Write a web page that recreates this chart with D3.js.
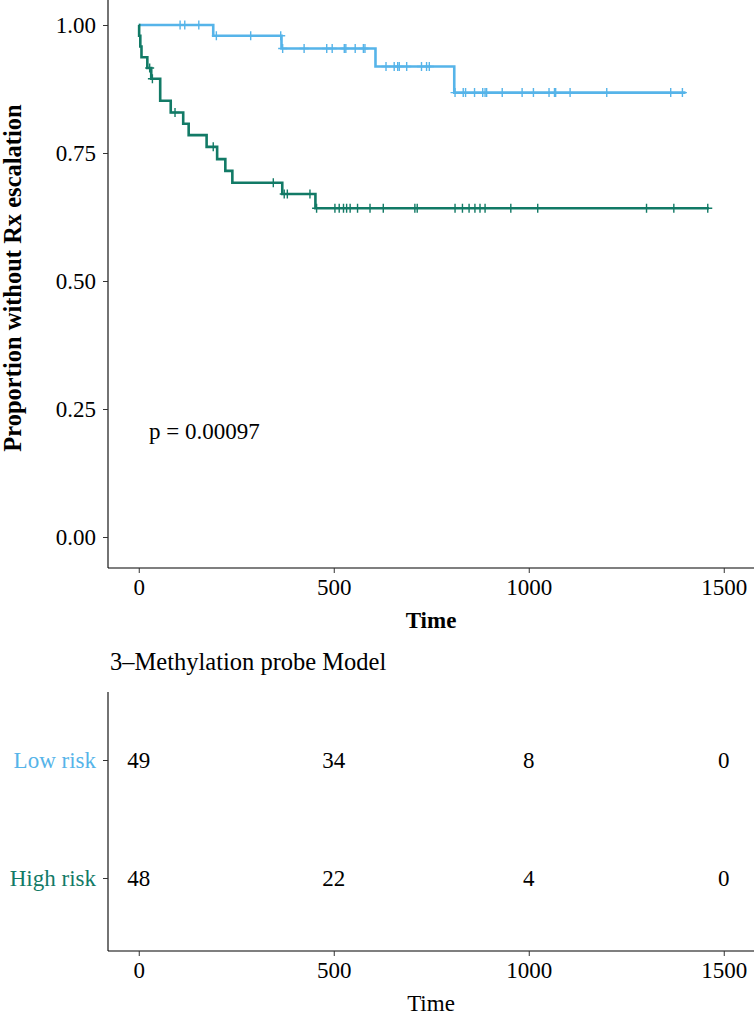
<!DOCTYPE html>
<html>
<head>
<meta charset="utf-8">
<script src="https://cdn.jsdelivr.net/npm/d3@7"></script>
<style>
  html, body { margin: 0; padding: 0; background: #ffffff; }
  svg { display: block; }
  text { font-family: "Liberation Serif", "DejaVu Serif", serif; }
</style>
</head>
<body>
<svg id="chart" width="754" height="1017"></svg>
<script>
// ---------- data ----------
const xTicks = [0, 500, 1000, 1500];
const yTicks = [0, 0.25, 0.5, 0.75, 1];
const yTickLabels = ["0.00", "0.25", "0.50", "0.75", "1.00"];

const strata = ["Low risk", "High risk"];
const strataColors = ["#56B4E9", "#127A66"];

// Low risk: step (event) times and survival after each step
const lowEventTimes = [0, 191, 366, 607, 809];
const lowSurv = [1, 0.979, 0.954, 0.919, 0.868];
const lowEnd = 1402;
const lowCensor = [106, 118, 154, 199, 287, 364, 369, 424, 482, 496, 527, 531, 555, 576, 580,
  634, 655, 664, 668, 687, 725, 738, 745, 811, 832, 838, 861, 882, 888, 892, 932, 983,
  1012, 1052, 1066, 1069, 1106, 1200, 1364, 1394];

// High risk
const highEventTimes = [0, 1, 4, 7, 22, 32, 55, 82, 114, 128, 174, 201, 222, 240, 368, 453];
const highSurv = [1, 0.979, 0.958, 0.937, 0.916, 0.895, 0.852, 0.829, 0.807, 0.785, 0.762,
  0.738, 0.715, 0.692, 0.670, 0.642];
const highEnd = 1462;
const highCensor = [28, 35, 93, 191, 345, 373, 381, 439, 456, 503, 514, 525, 533, 542, 561,
  593, 627, 708, 714, 811, 830, 847, 862, 875, 888, 954, 1023, 1302, 1372, 1459];

const pText = "p = 0.00097";

// risk table
const riskTimes = [0, 500, 1000, 1500];
const lowRisk = [49, 34, 8, 0];
const highRisk = [48, 22, 4, 0];
const tableTitle = "3\u2013Methylation probe Model";

// ---------- layout ----------
const svg = d3.select("#chart");
const font = "Liberation Serif";
const panelLeft = 108, panelRight = 754;
const topPanelTop = 0, topPanelBottom = 568;
const tabTop = 692, tabBottom = 951;

const x = d3.scaleLinear().domain([0, 1500]).range([138.75, 723.75]);
const y = d3.scaleLinear().domain([0, 1]).range([537, 25]);

// ---------- top plot ----------
const gTop = svg.append("g");

gTop.append("line").attr("x1", panelLeft).attr("x2", panelLeft)
  .attr("y1", topPanelTop).attr("y2", topPanelBottom)
  .attr("stroke", "#000").attr("stroke-width", 1.1);
gTop.append("line").attr("x1", panelLeft).attr("x2", panelRight)
  .attr("y1", topPanelBottom).attr("y2", topPanelBottom)
  .attr("stroke", "#000").attr("stroke-width", 1.1);

const yAxis = d3.axisLeft(y).tickValues(yTicks)
  .tickFormat((d, i) => yTickLabels[i]).tickSize(5).tickSizeOuter(0).tickPadding(7);
const gy = gTop.append("g").attr("transform", `translate(${panelLeft},0)`).call(yAxis);
gy.select(".domain").remove();
gy.selectAll("text").attr("font-family", font).attr("font-size", 23).attr("fill", "#000");
gy.selectAll("line").attr("stroke", "#333");

const xAxis = d3.axisBottom(x).tickValues(xTicks).tickFormat(d3.format("d"))
  .tickSize(5).tickSizeOuter(0).tickPadding(6);
const gx = gTop.append("g").attr("transform", `translate(0,${topPanelBottom})`).call(xAxis);
gx.select(".domain").remove();
gx.selectAll("text").attr("font-family", font).attr("font-size", 23).attr("fill", "#000");
gx.selectAll("line").attr("stroke", "#333");

gTop.append("text").attr("x", (panelLeft + panelRight) / 2).attr("y", 628)
  .attr("text-anchor", "middle").attr("font-family", font).attr("font-size", 23)
  .attr("font-weight", "bold").text("Time");
gTop.append("text").attr("transform", `translate(21,${(y(0) + y(1)) / 2 - 3}) rotate(-90)`)
  .attr("text-anchor", "middle").attr("font-family", font).attr("font-size", 24.5)
  .attr("font-weight", "bold").text("Proportion without Rx escalation");

// curves
const curves = [
  { times: lowEventTimes, surv: lowSurv, end: lowEnd, censor: lowCensor, color: strataColors[0] },
  { times: highEventTimes, surv: highSurv, end: highEnd, censor: highCensor, color: strataColors[1] }
];
function survAt(c, t) {
  let s = c.surv[0];
  for (let i = 0; i < c.times.length; i++) { if (c.times[i] <= t) s = c.surv[i]; }
  return s;
}
const line = d3.line().x(d => x(d[0])).y(d => y(d[1])).curve(d3.curveStepAfter);
curves.forEach(c => {
  const pts = c.times.map((t, i) => [t, c.surv[i]]);
  pts.push([c.end, c.surv[c.surv.length - 1]]);
  gTop.append("path").datum(pts).attr("d", line)
    .attr("fill", "none").attr("stroke", c.color).attr("stroke-width", 2.6);
  gTop.append("g").selectAll("path").data(c.censor).join("path")
    .attr("d", t => {
      const px = x(t), py = y(survAt(c, t));
      return `M${px},${py - 4.5}V${py + 4.5}M${px - 4.5},${py}H${px + 4.5}`;
    })
    .attr("stroke", c.color).attr("stroke-width", 1.4).attr("fill", "none");
});

gTop.append("text").attr("x", 149).attr("y", 439)
  .attr("font-family", font).attr("font-size", 23).text(pText);

// ---------- risk table ----------
const gTab = svg.append("g");
gTab.append("text").attr("x", 110).attr("y", 670)
  .attr("font-family", font).attr("font-size", 24.5).text(tableTitle);

const yRow = d3.scalePoint().domain(strata).range([760, 878]);

gTab.append("line").attr("x1", panelLeft).attr("x2", panelLeft)
  .attr("y1", tabTop).attr("y2", tabBottom).attr("stroke", "#000").attr("stroke-width", 1.1);
gTab.append("line").attr("x1", panelLeft).attr("x2", panelRight)
  .attr("y1", tabBottom).attr("y2", tabBottom).attr("stroke", "#000").attr("stroke-width", 1.1);

const tyAxis = d3.axisLeft(yRow).tickSize(5).tickSizeOuter(0).tickPadding(7);
const gty = gTab.append("g").attr("transform", `translate(${panelLeft},0)`).call(tyAxis);
gty.select(".domain").remove();
gty.selectAll("text").attr("font-family", font).attr("font-size", 23)
  .attr("fill", (d, i) => strataColors[i]);
gty.selectAll("line").attr("stroke", "#333");

const txAxis = d3.axisBottom(x).tickValues(xTicks).tickFormat(d3.format("d"))
  .tickSize(5).tickSizeOuter(0).tickPadding(6);
const gtx = gTab.append("g").attr("transform", `translate(0,${tabBottom})`).call(txAxis);
gtx.select(".domain").remove();
gtx.selectAll("text").attr("font-family", font).attr("font-size", 23).attr("fill", "#000");
gtx.selectAll("line").attr("stroke", "#333");

gTab.append("text").attr("x", (panelLeft + panelRight) / 2).attr("y", 1011)
  .attr("text-anchor", "middle").attr("font-family", font).attr("font-size", 23).text("Time");

const riskRows = [lowRisk, highRisk];
riskRows.forEach((row, r) => {
  gTab.append("g").selectAll("text").data(row).join("text")
    .attr("x", (d, i) => x(riskTimes[i]))
    .attr("y", yRow(strata[r]))
    .attr("dy", "0.35em")
    .attr("text-anchor", "middle")
    .attr("font-family", font).attr("font-size", 23)
    .text(d => d);
});
</script>
</body>
</html>
